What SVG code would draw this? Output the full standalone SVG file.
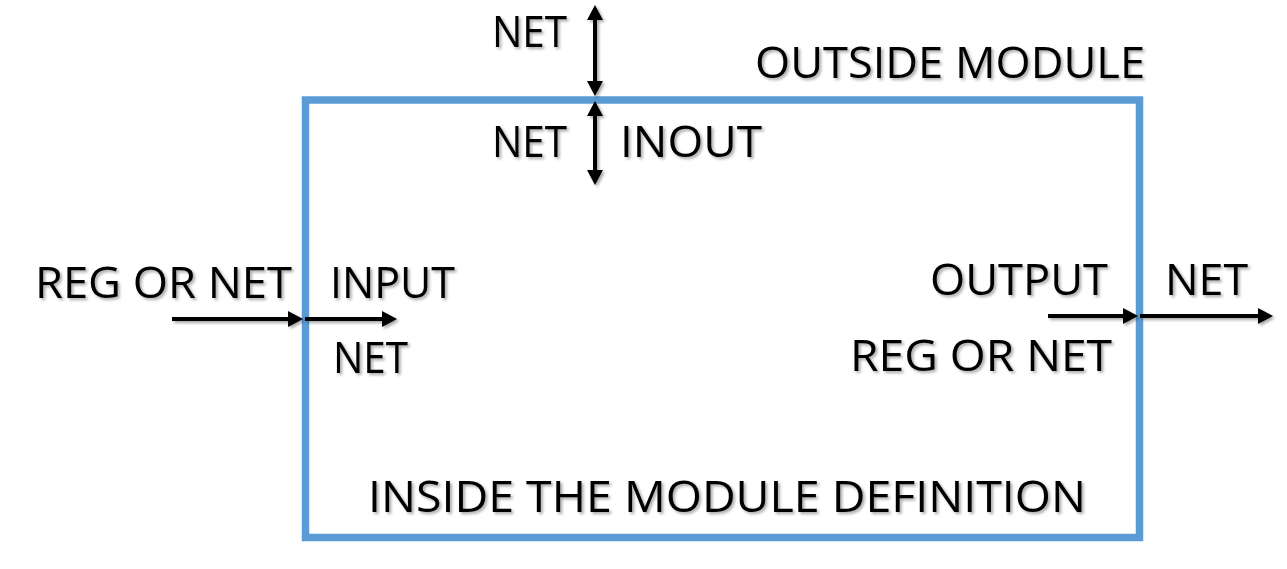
<svg xmlns="http://www.w3.org/2000/svg" width="1287" height="569" viewBox="0 0 1287 569">
  <style>
    .lbl { font-family: "Open Sans", "Liberation Sans", sans-serif; font-size: 43px; fill: #000; }
    .conn { stroke: #000; stroke-width: 4; fill: none; }
    .box { fill: none; stroke: #5B9BD5; stroke-width: 7.5; }
  </style>
  <defs>
    <filter id="sh" x="-10%" y="-30%" width="120%" height="160%">
      <feDropShadow dx="2" dy="2" stdDeviation="1.5" flood-color="#000" flood-opacity="0.35"/>
    </filter>
    <marker id="ah" markerUnits="userSpaceOnUse" markerWidth="16" markerHeight="16" refX="1" refY="8" orient="auto-start-reverse" viewBox="0 0 16 16">
      <path d="M0,0 L15,8 L0,16 z" fill="#000"/>
    </marker>
  </defs>
  <rect width="1287" height="569" fill="#fff"/>

  <g id="module">
    <rect class="box" x="305.5" y="100" width="834" height="437.5"/>
    <text class="lbl" filter="url(#sh)" x="368" y="512" textLength="718" lengthAdjust="spacingAndGlyphs">INSIDE THE MODULE DEFINITION</text>
  </g>

  <g id="outside">
    <text class="lbl" filter="url(#sh)" x="755" y="78" textLength="390" lengthAdjust="spacingAndGlyphs">OUTSIDE MODULE</text>
  </g>

  <g id="inout-port">
    <text class="lbl" filter="url(#sh)" x="492" y="47" textLength="75" lengthAdjust="spacingAndGlyphs">NET</text>
    <text class="lbl" filter="url(#sh)" x="492" y="157" textLength="75" lengthAdjust="spacingAndGlyphs">NET</text>
    <text class="lbl" filter="url(#sh)" x="620" y="157" textLength="142" lengthAdjust="spacingAndGlyphs">INOUT</text>
  </g>

  <g id="input-port">
    <text class="lbl" filter="url(#sh)" x="35" y="298" textLength="257" lengthAdjust="spacingAndGlyphs">REG OR NET</text>
    <text class="lbl" filter="url(#sh)" x="330" y="298" textLength="125" lengthAdjust="spacingAndGlyphs">INPUT</text>
    <text class="lbl" filter="url(#sh)" x="333" y="373" textLength="75" lengthAdjust="spacingAndGlyphs">NET</text>
  </g>

  <g id="output-port">
    <text class="lbl" filter="url(#sh)" x="930" y="295" textLength="178" lengthAdjust="spacingAndGlyphs">OUTPUT</text>
    <text class="lbl" filter="url(#sh)" x="1165" y="295" textLength="83" lengthAdjust="spacingAndGlyphs">NET</text>
    <text class="lbl" filter="url(#sh)" x="850" y="371" textLength="262" lengthAdjust="spacingAndGlyphs">REG OR NET</text>
  </g>

  <g id="connectors" filter="url(#sh)">
    <path class="conn" d="M595,19 L595,82" marker-start="url(#ah)" marker-end="url(#ah)"/>
    <path class="conn" d="M595,115 L595,171" marker-start="url(#ah)" marker-end="url(#ah)"/>
    <path class="conn" d="M172,319 L289,319" marker-end="url(#ah)"/>
    <path class="conn" d="M305,319 L383,319" marker-end="url(#ah)"/>
    <path class="conn" d="M1048,316 L1124,316" marker-end="url(#ah)"/>
    <path class="conn" d="M1140,316 L1259,316" marker-end="url(#ah)"/>
  </g>
</svg>
